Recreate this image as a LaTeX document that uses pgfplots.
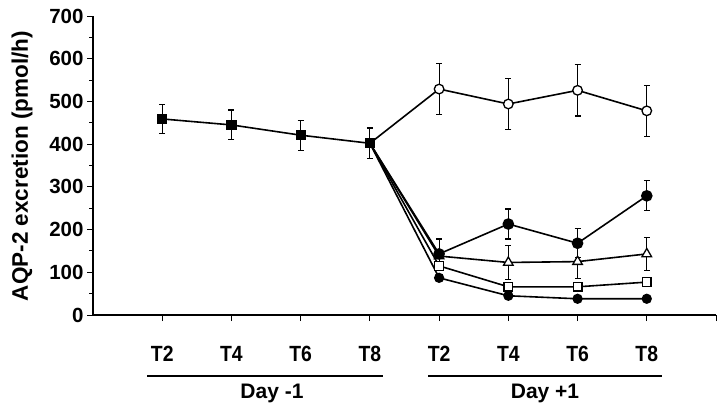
\documentclass[border=0pt]{standalone}
\usepackage{fontspec}
\setmainfont{Liberation Sans}
\newfontfamily\condfont[FakeStretch=0.88]{Liberation Sans Bold}
\usepackage{pgfplots}
\pgfplotsset{compat=1.18}
\begin{document}
\begin{tikzpicture}[x=1pt,y=1pt]
\useasboundingbox (0,0) rectangle (720,408);
\begin{axis}[
 at={(93pt,93pt)}, anchor=south west,
 scale only axis, width=623pt, height=299pt,
 xmin=0, xmax=9, ymin=0, ymax=700,
 axis lines=left, axis line style={-, line width=1.3pt},
 xtick={1,...,9}, xticklabels={T2,T4,T6,T8,T2,T4,T6,T8,},
 ytick={0,100,...,700}, minor ytick={50,150,...,650},
 tick align=outside, major tick length=6pt, minor tick length=4pt,
 every tick/.style={line width=1pt, black},
 /pgf/number format/assume math mode=true,
 yticklabel style={font=\fontsize{20.5}{20.5}\selectfont\bfseries},
 xticklabel style={font=\fontsize{22}{22}\selectfont\condfont, yshift=-22pt},
 clip=false,
 every axis plot/.append style={black, line width=1.6pt},
 error bars/error bar style={line width=1.2pt},
 error bars/error mark options={rotate=90, mark size=3pt, line width=1.2pt},
]
% baseline Day -1
\addplot[mark=square*, mark size=4.3pt, mark options={fill=black},
  error bars/.cd, y dir=both, y explicit]
 coordinates {(1,459) +- (0,34) (2,445) +- (0,35) (3,421) +- (0,35) (4,402) +- (0,36)};
% connecting lines Day +1
\addplot[no marks] coordinates {(4,402) (5,529) (6,494) (7,526) (8,478)};
\addplot[no marks] coordinates {(4,402) (5,143) (6,213) (7,168) (8,279)};
\addplot[no marks] coordinates {(4,402) (5,138) (6,123) (7,125) (8,143)};
\addplot[no marks] coordinates {(4,402) (5,115) (6,66) (7,66) (8,77)};
\addplot[no marks] coordinates {(4,402) (5,87) (6,45) (7,38) (8,38)};
% open circles
\addplot[only marks, mark=*, mark size=4.8pt, mark options={fill=white, line width=1.3pt},
  error bars/.cd, y dir=both, y explicit]
 coordinates {(5,529) +- (0,60) (6,494) +- (0,60) (7,526) +- (0,60) (8,478) +- (0,60)};
% open triangles
\addplot[only marks, mark=triangle*, mark size=5.5pt, mark options={fill=white, line width=1.3pt},
  error bars/.cd, y dir=both, y explicit]
 coordinates {(5,138) +- (0,0) (6,123) +- (0,40) (7,125) +- (0,40) (8,143) +- (0,39)};
% filled circles
\addplot[only marks, mark=*, mark size=5pt, mark options={fill=black},
  error bars/.cd, y dir=both, y explicit]
 coordinates {(5,143) +- (0,35) (6,213) +- (0,35) (7,168) +- (0,34) (8,279) +- (0,35)};
% open squares
\addplot[only marks, mark=square*, mark size=4.3pt, mark options={fill=white, line width=1.3pt},
  error bars/.cd, y dir=both, y explicit]
 coordinates {(5,115) +- (0,8) (6,66) +- (0,8) (7,66) +- (0,8) (8,77) +- (0,8)};
% filled small markers
\addplot[only marks, mark=*, mark size=4.3pt, mark options={fill=black},
  error bars/.cd, y dir=both, y explicit]
 coordinates {(5,87) +- (0,7) (6,45) +- (0,7) (7,38) +- (0,7) (8,38) +- (0,7)};
\end{axis}
\node[rotate=90, font=\fontsize{22.5}{22.5}\selectfont\bfseries] at (22,242) {AQP-2 excretion (pmol/h)};
\draw[line width=1.2pt] (147,32) -- (383,32);
\draw[line width=1.2pt] (428,32) -- (662,32);
\node[font=\fontsize{21}{21}\selectfont\bfseries] at (272,15) {Day -1};
\node[font=\fontsize{21}{21}\selectfont\bfseries] at (545,15) {Day +1};
\end{tikzpicture}
\end{document}
